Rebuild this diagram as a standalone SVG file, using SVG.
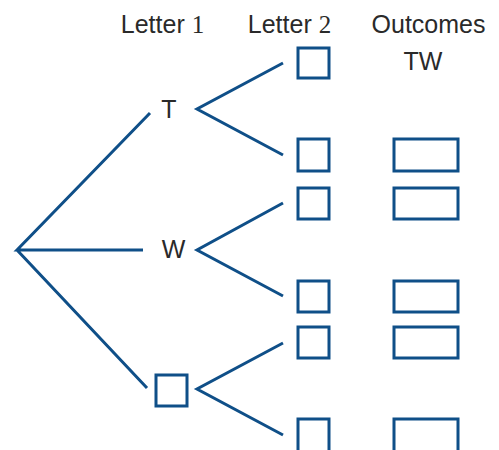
<svg xmlns="http://www.w3.org/2000/svg" width="499" height="450" viewBox="0 0 499 450">
<style>
.ln{stroke:#0f4f88;stroke-width:3;fill:none;stroke-linecap:butt;stroke-linejoin:miter}
.bx{stroke:#0f4f88;stroke-width:3;fill:#fff}
.t{font-family:"Liberation Sans",Arial,sans-serif;font-size:25px;fill:#2a2a2a;text-anchor:middle}
.s{font-family:"Liberation Serif","Times New Roman",serif}
</style>
<rect width="499" height="450" fill="#fff"/>
<g id="headers">
<text class="t" x="162.5" y="33">Letter <tspan class="s">1</tspan></text>
<text class="t" x="289.5" y="33">Letter <tspan class="s">2</tspan></text>
<text class="t" x="428.5" y="33">Outcomes</text>
<text class="t" x="423" y="70">TW</text>
</g>
<g id="connectors">
<path class="ln" d="M150,113 L17,250 L143,250 M17,250 L147,388"/>
<path class="ln" d="M283,63 L197,109 L283,155"/>
<path class="ln" d="M283,203 L197,250 L283,296"/>
<path class="ln" d="M283,343 L197,389 L283,435"/>
</g>
<g id="letter1-T"><text class="t" x="169" y="118">T</text></g>
<g id="letter1-W"><text class="t" x="173.5" y="258">W</text></g>
<g id="letter1-blank"><rect class="bx" x="156" y="375" width="31" height="31"/></g>
<g id="letter2-1"><rect class="bx" x="298" y="48" width="31" height="30"/></g>
<g id="letter2-2"><rect class="bx" x="298" y="139" width="31" height="32"/></g>
<g id="letter2-3"><rect class="bx" x="298" y="188" width="31" height="31"/></g>
<g id="letter2-4"><rect class="bx" x="298" y="281" width="31" height="31"/></g>
<g id="letter2-5"><rect class="bx" x="298" y="327" width="31" height="31"/></g>
<g id="letter2-6"><rect class="bx" x="298" y="419" width="31" height="40"/></g>
<g id="outcome-2"><rect class="bx" x="394" y="139" width="64" height="32"/></g>
<g id="outcome-3"><rect class="bx" x="394" y="188" width="64" height="31"/></g>
<g id="outcome-4"><rect class="bx" x="394" y="281" width="64" height="31"/></g>
<g id="outcome-5"><rect class="bx" x="394" y="327" width="64" height="31"/></g>
<g id="outcome-6"><rect class="bx" x="394" y="419" width="64" height="40"/></g>
</svg>
